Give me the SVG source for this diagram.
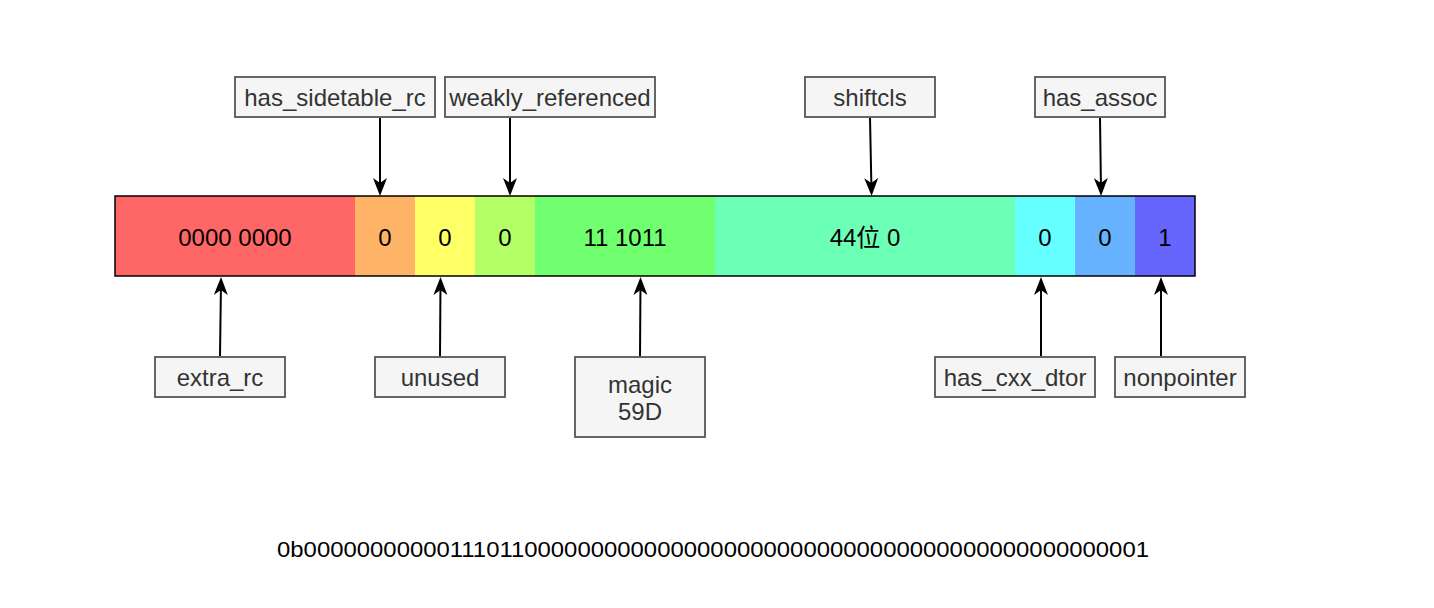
<svg xmlns="http://www.w3.org/2000/svg" width="1434" height="608" viewBox="0 0 1434 608">
<style>
.box{fill:#f5f5f5;stroke:#666666;stroke-width:2}
.lbl{font-family:"Liberation Sans",Helvetica,Arial,sans-serif;font-size:24px;fill:#333333;text-anchor:middle}
.bit{font-family:"Liberation Sans",Helvetica,Arial,"Noto Sans CJK SC",sans-serif;font-size:24px;fill:#000000;text-anchor:middle}
.conn{stroke:#000000;stroke-width:2;fill:none;marker-end:url(#arr)}
</style>
<defs>
<marker id="arr" markerUnits="userSpaceOnUse" viewBox="0 0 18 14" refX="13" refY="7" markerWidth="18" markerHeight="14" orient="auto">
<path d="M0,0 L18,7 L0,14 L5,7 Z" fill="#000000"/>
</marker>
</defs>
<rect width="1434" height="608" fill="#ffffff"/>
<g id="bar">
<rect x="115" y="196" width="240" height="80" fill="#FF6666"/>
<rect x="355" y="196" width="60" height="80" fill="#FFB366"/>
<rect x="415" y="196" width="60" height="80" fill="#FFFF66"/>
<rect x="475" y="196" width="60" height="80" fill="#B3FF66"/>
<rect x="535" y="196" width="180" height="80" fill="#6FFF6F"/>
<rect x="715" y="196" width="300" height="80" fill="#6CFFB6"/>
<rect x="1015" y="196" width="60" height="80" fill="#66FFFF"/>
<rect x="1075" y="196" width="60" height="80" fill="#66B2FF"/>
<rect x="1135" y="196" width="60" height="80" fill="#6666FF"/>
<rect x="115" y="196" width="1080" height="80" fill="none" stroke="#000000" stroke-width="1.5"/>
<text class="bit" x="235" y="246">0000 0000</text>
<text class="bit" x="385" y="246">0</text>
<text class="bit" x="445" y="246">0</text>
<text class="bit" x="505" y="246">0</text>
<text class="bit" x="625" y="246">11 1011</text>
<text class="bit" x="865" y="246">44位 0</text>
<text class="bit" x="1045" y="246">0</text>
<text class="bit" x="1105" y="246">0</text>
<text class="bit" x="1165" y="246">1</text>
</g>
<g id="has_sidetable_rc"><rect class="box" x="235" y="77" width="200" height="40"/><text class="lbl" x="335" y="106">has_sidetable_rc</text></g>
<g id="weakly_referenced"><rect class="box" x="445" y="77" width="210" height="40"/><text class="lbl" x="550" y="106">weakly_referenced</text></g>
<g id="shiftcls"><rect class="box" x="805" y="77" width="130" height="40"/><text class="lbl" x="870" y="106">shiftcls</text></g>
<g id="has_assoc"><rect class="box" x="1035" y="77" width="130" height="40"/><text class="lbl" x="1100" y="106">has_assoc</text></g>
<g id="extra_rc"><rect class="box" x="155" y="357" width="130" height="40"/><text class="lbl" x="220" y="386">extra_rc</text></g>
<g id="unused"><rect class="box" x="375" y="357" width="130" height="40"/><text class="lbl" x="440" y="386">unused</text></g>
<g id="magic"><rect class="box" x="575" y="357" width="130" height="80"/><text class="lbl" x="640" y="393">magic</text><text class="lbl" x="640" y="420">59D</text></g>
<g id="has_cxx_dtor"><rect class="box" x="935" y="357" width="160" height="40"/><text class="lbl" x="1015" y="386">has_cxx_dtor</text></g>
<g id="nonpointer"><rect class="box" x="1115" y="357" width="130" height="40"/><text class="lbl" x="1180" y="386">nonpointer</text></g>
<g id="connectors">
<line class="conn" x1="380" y1="118" x2="380" y2="191"/>
<line class="conn" x1="510" y1="118" x2="510" y2="191"/>
<line class="conn" x1="870" y1="118" x2="871.5" y2="191"/>
<line class="conn" x1="1100" y1="118" x2="1101" y2="191"/>
<line class="conn" x1="220" y1="356" x2="221" y2="282"/>
<line class="conn" x1="440" y1="356" x2="440.5" y2="282"/>
<line class="conn" x1="640" y1="356" x2="640.5" y2="282"/>
<line class="conn" x1="1041" y1="356" x2="1041" y2="282"/>
<line class="conn" x1="1161" y1="356" x2="1161" y2="282"/>
</g>
<text x="713" y="557" font-family="'Liberation Sans',Helvetica,Arial,sans-serif" font-size="22" fill="#000000" text-anchor="middle" textLength="872" lengthAdjust="spacingAndGlyphs">0b0000000000011101100000000000000000000000000000000000000000000001</text>
</svg>
